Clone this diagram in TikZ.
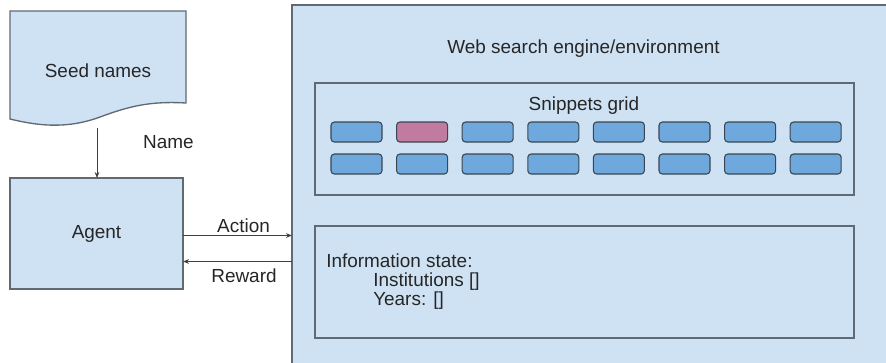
\documentclass[tikz,border=0pt]{standalone}
\usepackage{fontspec}
\setmainfont{Liberation Sans}
\usepackage{tikz}
\usetikzlibrary{arrows.meta}
\definecolor{boxfill}{HTML}{CFE2F3}
\definecolor{boxline}{HTML}{606A75}
\definecolor{snipblue}{HTML}{6FA8DC}
\definecolor{snippink}{HTML}{C27BA0}
\definecolor{snipline}{HTML}{3A4550}
\tikzset{
  every node/.style={font=\fontsize{14.2}{17}\selectfont, text=black!85},
  bigbox/.style={draw=boxline, fill=boxfill, line width=1pt, inner sep=0pt, outer sep=0pt},
  snip/.style={draw=snipline, line width=0.8pt, rounded corners=2.5pt, minimum width=38.25pt, minimum height=15pt, inner sep=0pt},
  flow/.style={draw=black!75, line width=0.6pt, -{Stealth[length=4.5pt,width=3.5pt]}},
  lbl/.style={anchor=base, inner sep=0pt}
}
\newcommand{\snippet}[4]{\node[snip,fill=#4] (#1) at (#2,#3) {};}
\newcommand{\infoline}[4]{\node[lbl,anchor=base west] (#1) at (#2,#3) {#4};}

\begin{document}
\begin{tikzpicture}[x=0.75pt,y=-0.75pt]
\useasboundingbox (0,0) rectangle (886,362);
\clip (0,0) rectangle (886,362);
% environment and its two panels
\node[bigbox, minimum width=471pt, minimum height=296.25pt] (env) at (606,202.5) {};
\node[lbl] (envtitle) at (583.5,53.3) {Web search engine/environment};
\node[bigbox, minimum width=404.25pt, minimum height=84pt] (grid) at (584.5,139) {};
\node[lbl] (gridtitle) at (584,110) {Snippets grid};
\node[bigbox, minimum width=404.25pt, minimum height=84pt] (info) at (584.5,282) {};
% row 1 of snippets
\snippet{a0}{356.5}{132}{snipblue}
\snippet{a1}{422.1}{132}{snippink}
\foreach \i in {2,...,7} { \snippet{a\i}{356.5+65.6*\i}{132}{snipblue} }
% row 2 of snippets
\foreach \i in {0,...,7} { \snippet{b\i}{356.5+65.6*\i}{164}{snipblue} }
% information state text
\infoline{info1}{326}{267}{Information state:}
\infoline{info2}{373}{286}{Institutions []}
\infoline{info3}{373}{305}{Years: []}
% seed names document
\draw[draw=boxline, fill=boxfill, line width=1pt] (10,11) -- (186,11) -- (186,103)
  .. controls (150,101) and (130,106) .. (100,117)
  .. controls (65,130) and (35,125) .. (10,119) -- cycle;
\node (seed) at (98,70.5) {Seed names};
\coordinate (seedbot) at (97,128);
% agent
\node[bigbox, minimum width=129.75pt, minimum height=83.25pt] (agent) at (96.5,233.5) {Agent};
% connectors
\draw[flow] (seedbot) -- (seedbot |- agent.north);
\node[lbl] (namelbl) at (168.5,148) {Name};
\draw[flow] ([yshift=-1.5pt]agent.east) -- ([yshift=-1.5pt]agent.east -| env.west);
\node[lbl] (actionlbl) at (243.5,232) {Action};
\draw[flow] ([yshift=-21pt]agent.east -| env.west) -- ([yshift=-21pt]agent.east);
\node[lbl] (rewardlbl) at (244,282) {Reward};
\end{tikzpicture}
\end{document}
